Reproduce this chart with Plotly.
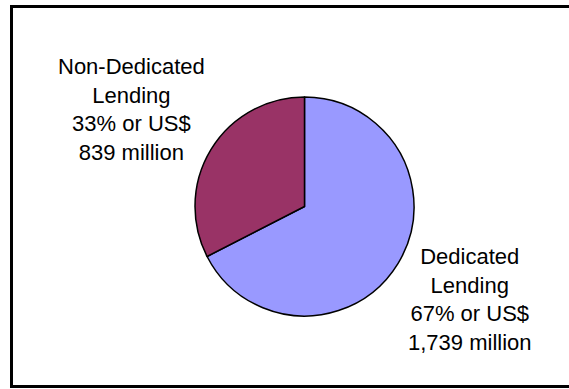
import plotly.graph_objects as go

labels = ["Dedicated Lending", "Non-Dedicated Lending"]
label_lines = [["Dedicated", "Lending"], ["Non-Dedicated", "Lending"]]
values = [1739, 839]
colors = ["#9999FF", "#993366"]

total = sum(values)
texts = []
for lines, v in zip(label_lines, values):
    pct = round(v / total * 100)
    texts.append("<br>".join(lines + [f"{pct}% or US$", f"{v:,} million"]))

W, H = 569, 389

fig = go.Figure(go.Pie(
    labels=labels,
    values=values,
    marker=dict(colors=colors, line=dict(color="black", width=1.5)),
    sort=False,
    direction="clockwise",
    rotation=0,
    textinfo="none",
    hoverinfo="label+value+percent",
    showlegend=False,
    domain=dict(x=[195 / W, 414 / W], y=[1 - 316 / H, 1 - 97 / H]),
))

# label positions (paper coords)
label_pos = [(470 / W, 1 - 299.5 / H), (131 / W, 1 - 109 / H)]
for t, (x, y) in zip(texts, label_pos):
    fig.add_annotation(
        text=t, x=x, y=y, xref="paper", yref="paper",
        xanchor="center", yanchor="middle", showarrow=False,
        align="center",
        font=dict(family="Arial, Liberation Sans, sans-serif", size=22, color="black"),
    )

fig.add_shape(
    type="rect", xref="paper", yref="paper",
    x0=11.5 / W, x1=1.02, y0=1 - 386.5 / H, y1=1 - 6.5 / H,
    line=dict(color="black", width=3),
)

fig.update_layout(
    width=W, height=H,
    margin=dict(l=0, r=0, t=0, b=0),
    paper_bgcolor="white",
    plot_bgcolor="white",
)

fig.write_html("out.html")
